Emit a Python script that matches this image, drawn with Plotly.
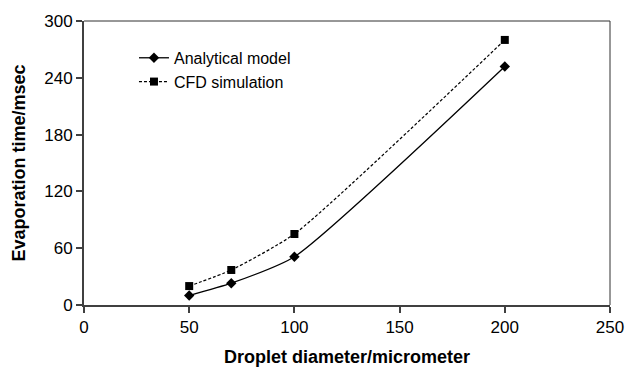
import plotly.graph_objects as go

diameter = [50, 70, 100, 200]
analytical = [10, 23, 51, 252]
cfd = [20, 37, 75, 280]

fig = go.Figure()
fig.add_trace(go.Scatter(
    x=diameter, y=analytical, name="Analytical model", mode="lines+markers",
    line=dict(color="black", width=1.3, shape="spline", smoothing=0.55),
    marker=dict(symbol="diamond", size=8, color="black")))
fig.add_trace(go.Scatter(
    x=diameter, y=cfd, name="CFD simulation", mode="lines+markers",
    line=dict(color="black", width=1.2, dash="3px,2px", shape="spline", smoothing=0.55),
    marker=dict(symbol="square", size=8, color="black")))

axis_common = dict(showgrid=False, zeroline=False, ticks="outside", ticklen=6,
                   tickwidth=1.5, tickcolor="#404040", showline=True,
                   linewidth=2, linecolor="#404040",
                   tickfont=dict(family="Liberation Sans, Arial", size=17, color="black"))

fig.update_layout(
    width=636, height=376,
    margin=dict(l=84, r=15, t=20, b=63),
    paper_bgcolor="white", plot_bgcolor="white",
    xaxis=dict(range=[0, 250], tickvals=[0, 50, 100, 150, 200, 250],
               title=dict(text="<b>Droplet diameter/micrometer</b>", standoff=14,
                          font=dict(family="Liberation Sans, Arial", size=18, color="black")),
               **axis_common),
    yaxis=dict(range=[0, 300], tickvals=[0, 60, 120, 180, 240, 300],
               title=dict(text="<b>Evaporation time/msec</b>", standoff=14,
                          font=dict(family="Liberation Sans, Arial", size=18, color="black")),
               **axis_common),
    legend=dict(x=0.095, y=0.93, xanchor="left", yanchor="top",
                bgcolor="rgba(0,0,0,0)", tracegroupgap=4,
                font=dict(family="Liberation Sans, Arial", size=16, color="black")),
    showlegend=True,
    shapes=[
        dict(type="line", xref="paper", yref="paper", x0=0, x1=1, y0=1, y1=1,
             line=dict(color="#303030", width=1)),
        dict(type="line", xref="paper", yref="paper", x0=1, x1=1, y0=0, y1=1,
             line=dict(color="#303030", width=1)),
    ],
)

fig.write_html("out.html")
